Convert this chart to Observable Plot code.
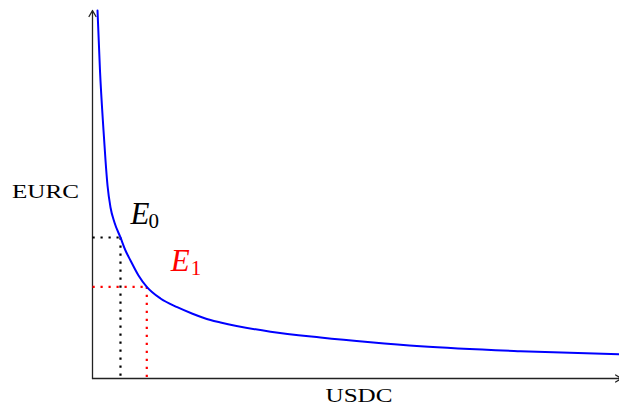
<!DOCTYPE html>
<html>
<head>
<meta charset="utf-8">
<script src="https://cdn.jsdelivr.net/npm/d3@7"></script>
<script src="https://cdn.jsdelivr.net/npm/@observablehq/plot@0.6"></script>
<style>
  html, body { margin: 0; padding: 0; background: #fff; }
  #chart svg { display: block; }
</style>
</head>
<body>
<div id="chart"></div>
<script>
// Curve (USDC on x, EURC on y)
const usdc = [0.095, 0.142, 0.209, 0.247, 0.285, 0.342, 0.417, 0.531, 0.626, 0.721, 0.873, 1.030, 1.290, 1.607, 1.898, 2.239, 2.429, 3.378, 4.326, 5.275, 6.224, 8.121, 10.0];
const eurc = [10.0, 8.370, 6.739, 5.924, 5.245, 4.647, 4.239, 3.832, 3.478, 3.207, 2.799, 2.490, 2.174, 1.938, 1.761, 1.590, 1.522, 1.272, 1.114, 0.984, 0.875, 0.742, 0.660];

// Equilibrium points
const pointNames = ["E", "E"];
const pointSubs = ["0", "1"];
const pointUsdc = [0.531, 1.030];
const pointEurc = [3.832, 2.490];
const pointColors = ["black", "red"];

const xLabel = "USDC";
const yLabel = "EURC";

const curve = usdc.map((x, i) => ({x, y: eurc[i]}));
const pts = pointNames.map((n, i) => ({name: n, sub: pointSubs[i], x: pointUsdc[i], y: pointEurc[i], color: pointColors[i]}));

const serif = "'Liberation Serif', 'DejaVu Serif', serif";

const chart = Plot.plot({
  width: 619,
  height: 410,
  marginLeft: 92,
  marginRight: 0,
  marginTop: 10,
  marginBottom: 32,
  x: {domain: [0, 10], axis: null},
  y: {domain: [0, 10], axis: null},
  color: {type: "identity"},
  style: {fontFamily: serif, background: "white"},
  marks: [
    // axes with arrow heads
    Plot.arrow([{x1: 0, y1: 0, x2: 0, y2: 10}], {x1: "x1", y1: "y1", x2: "x2", y2: "y2", stroke: "#222", strokeWidth: 1.3, headLength: 8, bend: 0}),
    Plot.arrow([{x1: 0, y1: 0, x2: 10.04, y2: 0}], {x1: "x1", y1: "y1", x2: "x2", y2: "y2", stroke: "#222", strokeWidth: 1.3, headLength: 8, bend: 0}),
    // dotted guide lines
    Plot.link(pts, {x1: 0, x2: "x", y1: "y", y2: "y", stroke: "color", strokeWidth: 2.2, strokeDasharray: "2.2,5.8"}),
    Plot.link(pts, {x1: "x", x2: "x", y1: "y", y2: 0, stroke: "color", strokeWidth: 2.2, strokeDasharray: "2.2,5.8"}),
    // curve
    Plot.line(curve, {x: "x", y: "y", stroke: "blue", strokeWidth: 2, curve: "monotone-x"}),
    // point labels
    Plot.text([pts[0]], {x: "x", y: "y", text: "name", fill: "color", fontSize: 31, fontStyle: "italic", textAnchor: "start", lineAnchor: "bottom", dx: 10, dy: -13}),
    Plot.text([pts[0]], {x: "x", y: "y", text: "sub", fill: "color", fontSize: 21, textAnchor: "start", lineAnchor: "bottom", dx: 28, dy: -9}),
    Plot.text([pts[1]], {x: "x", y: "y", text: "name", fill: "color", fontSize: 31, fontStyle: "italic", textAnchor: "start", lineAnchor: "bottom", dx: 24, dy: -16}),
    Plot.text([pts[1]], {x: "x", y: "y", text: "sub", fill: "color", fontSize: 21, textAnchor: "start", lineAnchor: "bottom", dx: 44, dy: -12}),
    // axis titles
    Plot.text([yLabel], {frameAnchor: "left", text: d => d, fontSize: 19.5, textAnchor: "middle", lineAnchor: "middle", dx: -47, dy: -2.5, fill: "black", className: "axislab"}),
    Plot.text([xLabel], {frameAnchor: "bottom", text: d => d, fontSize: 19.5, textAnchor: "middle", lineAnchor: "top", dx: 3, dy: 10, fill: "black", className: "axislab"})
  ]
});

chart.querySelectorAll(".axislab text").forEach(t => {
  t.setAttribute("textLength", 67);
  t.setAttribute("lengthAdjust", "spacingAndGlyphs");
});

document.getElementById("chart").appendChild(chart);
</script>
</body>
</html>
